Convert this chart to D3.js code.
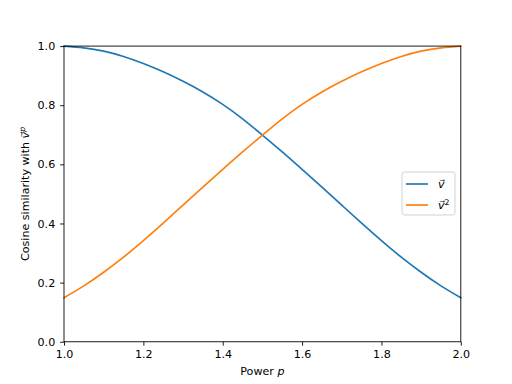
<!DOCTYPE html>
<html><head><meta charset="utf-8">
<script src="https://cdn.jsdelivr.net/npm/d3@7"></script>
<style>body{margin:0;background:#fff}svg{display:block}text{font-family:"DejaVu Sans",sans-serif}</style>
</head><body><svg id="c" width="512" height="384"></svg>
<script>
const powers = [1.00,1.05,1.10,1.15,1.20,1.25,1.30,1.35,1.40,1.45,1.50,1.55,1.60,1.65,1.70,1.75,1.80,1.85,1.90,1.95,2.00];
const simV  = [1.000,0.994,0.983,0.965,0.941,0.913,0.881,0.845,0.803,0.754,0.699,0.642,0.583,0.523,0.462,0.401,0.342,0.286,0.235,0.189,0.149];
const simV2 = [0.149,0.189,0.235,0.286,0.342,0.401,0.462,0.523,0.583,0.642,0.699,0.754,0.803,0.845,0.881,0.913,0.941,0.965,0.983,0.994,1.000];
const xTicks = [1.0,1.2,1.4,1.6,1.8,2.0];
const yTicks = [0.0,0.2,0.4,0.6,0.8,1.0];
const seriesNames = ["v", "v2"];
const colors = ["#1f77b4", "#ff7f0e"];

const svg = d3.select("#c");
const L=64, R=460.8, T=46.08, B=341.76;
const x = d3.scaleLinear().domain([1,2]).range([L,R]);
const y = d3.scaleLinear().domain([0,1]).range([B,T]);

const line = d3.line().x((d,i)=>x(powers[i])).y(d=>y(d)).curve(d3.curveNatural);
[simV, simV2].forEach((s,k)=>{
  svg.append("path").attr("d", line(s)).attr("fill","none")
    .attr("stroke", colors[k]).attr("stroke-width",1.67).attr("stroke-linecap","square");
});

const xa = svg.append("g").attr("transform",`translate(0,${B})`)
  .call(d3.axisBottom(x).tickValues(xTicks).tickFormat(d3.format(".1f")).tickSizeOuter(0).tickSize(3.9).tickPadding(4.9));
const ya = svg.append("g").attr("transform",`translate(${L},0)`)
  .call(d3.axisLeft(y).tickValues(yTicks).tickFormat(d3.format(".1f")).tickSizeOuter(0).tickSize(3.9).tickPadding(4.9));
[xa,ya].forEach(g=>{
  g.select(".domain").remove();
  g.selectAll("line").attr("stroke","#000").attr("stroke-width",0.89);
  g.selectAll("text").attr("font-size","11.1px").attr("fill","#000").attr("font-family","DejaVu Sans");
});
// spines
svg.append("rect").attr("x",L).attr("y",T).attr("width",R-L).attr("height",B-T)
  .attr("fill","none").attr("stroke","#000").attr("stroke-width",0.89);

// x label
const xl = svg.append("text").attr("x",(L+R)/2).attr("y",375).attr("text-anchor","middle").attr("font-size","11.1px");
xl.append("tspan").text("Power ");
xl.append("tspan").attr("font-style","italic").text("p");

// y label
const yl = svg.append("text").attr("transform",`translate(29,${(T+B)/2}) rotate(-90)`)
  .attr("text-anchor","middle").attr("font-size","11.1px");
yl.append("tspan").text("Cosine similarity with ");
yl.append("tspan").attr("font-style","italic").text("v\u20D7");
yl.append("tspan").attr("font-style","italic").attr("font-size","7.8px").attr("dy","-4").text("p");

// legend
const lg = svg.append("g");
lg.append("rect").attr("x",402).attr("y",172).attr("width",53).attr("height",43).attr("rx",2.5)
  .attr("fill","#fff").attr("fill-opacity",0.8).attr("stroke","#ccc").attr("stroke-width",0.89);
seriesNames.forEach((n,k)=>{
  const yy = 184 + k*21;
  lg.append("line").attr("x1",406).attr("x2",428).attr("y1",yy).attr("y2",yy)
    .attr("stroke",colors[k]).attr("stroke-width",1.67);
  const t = lg.append("text").attr("x",438).attr("y",yy+4).attr("font-size","11.1px");
  t.append("tspan").attr("font-style","italic").text("v\u20D7");
  if (n==="v2") t.append("tspan").attr("font-size","7.8px").attr("dy","-4").text("2");
});
</script></body></html>
